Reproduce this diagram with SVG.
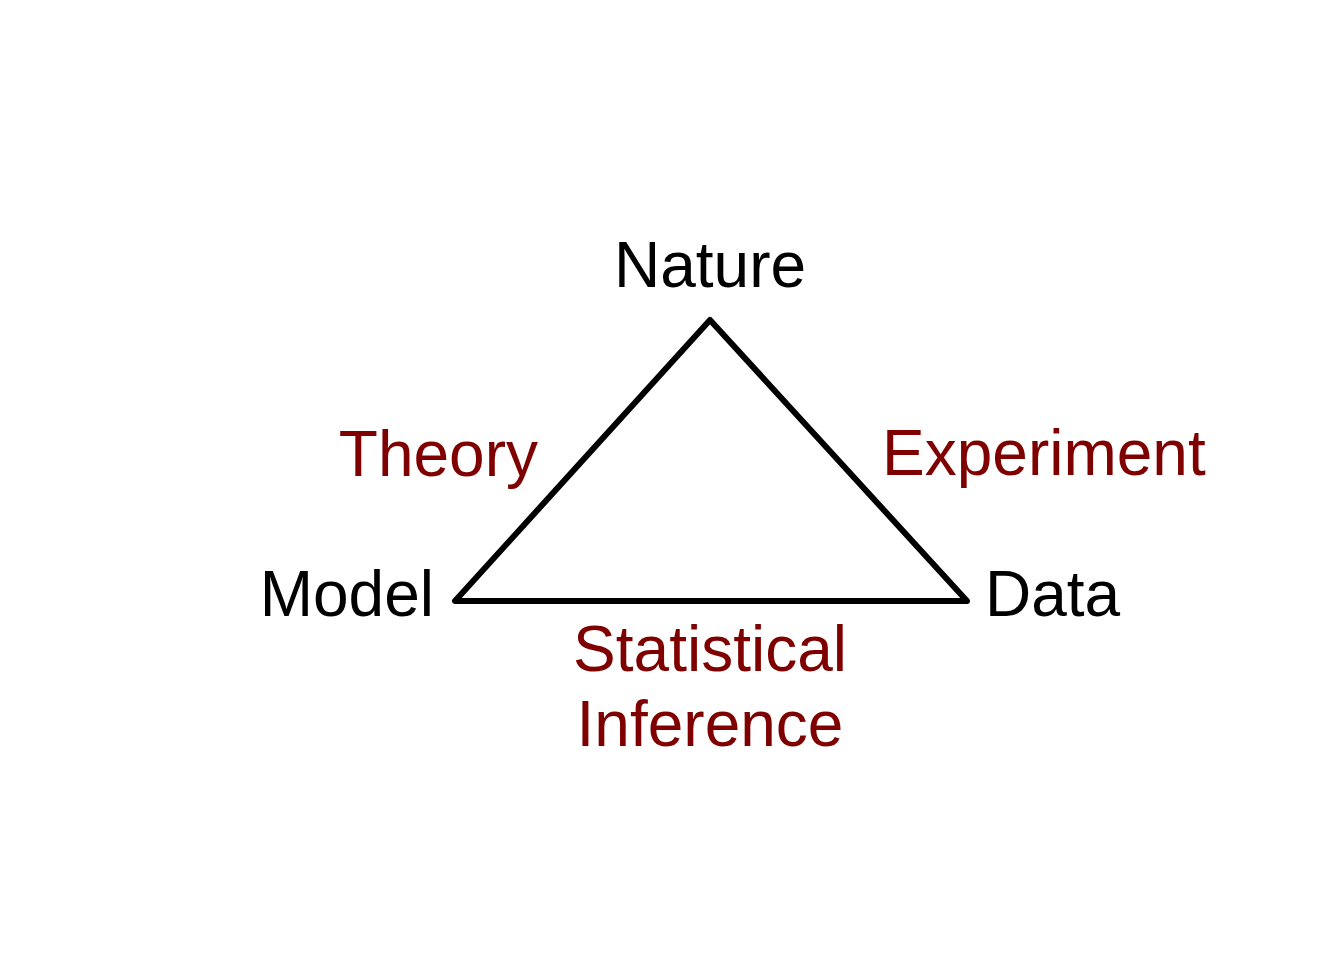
<svg xmlns="http://www.w3.org/2000/svg" width="1344" height="960" viewBox="0 0 1344 960">
<style>
.lbl{font-family:"Liberation Sans",Arial,sans-serif;font-size:64px;fill:#000}
.edge{font-family:"Liberation Sans",Arial,sans-serif;font-size:64px;fill:#7F0000}
.tri{fill:none;stroke:#000;stroke-width:6;stroke-linejoin:round;stroke-linecap:round}
</style>
<rect width="1344" height="960" fill="#fff"/>
<g id="connectors">
<polygon class="tri" points="710,320 455,601 967,601"/>
</g>
<g id="nature"><text class="lbl" x="710" y="287" text-anchor="middle">Nature</text></g>
<g id="model"><text class="lbl" x="434" y="616" text-anchor="end">Model</text></g>
<g id="data"><text class="lbl" x="985" y="616">Data</text></g>
<g id="theory"><text class="edge" x="538" y="476" text-anchor="end">Theory</text></g>
<g id="experiment"><text class="edge" x="882" y="475">Experiment</text></g>
<g id="inference"><text class="edge" x="710" y="671" text-anchor="middle">Statistical</text><text class="edge" x="710" y="746" text-anchor="middle">Inference</text></g>
</svg>
